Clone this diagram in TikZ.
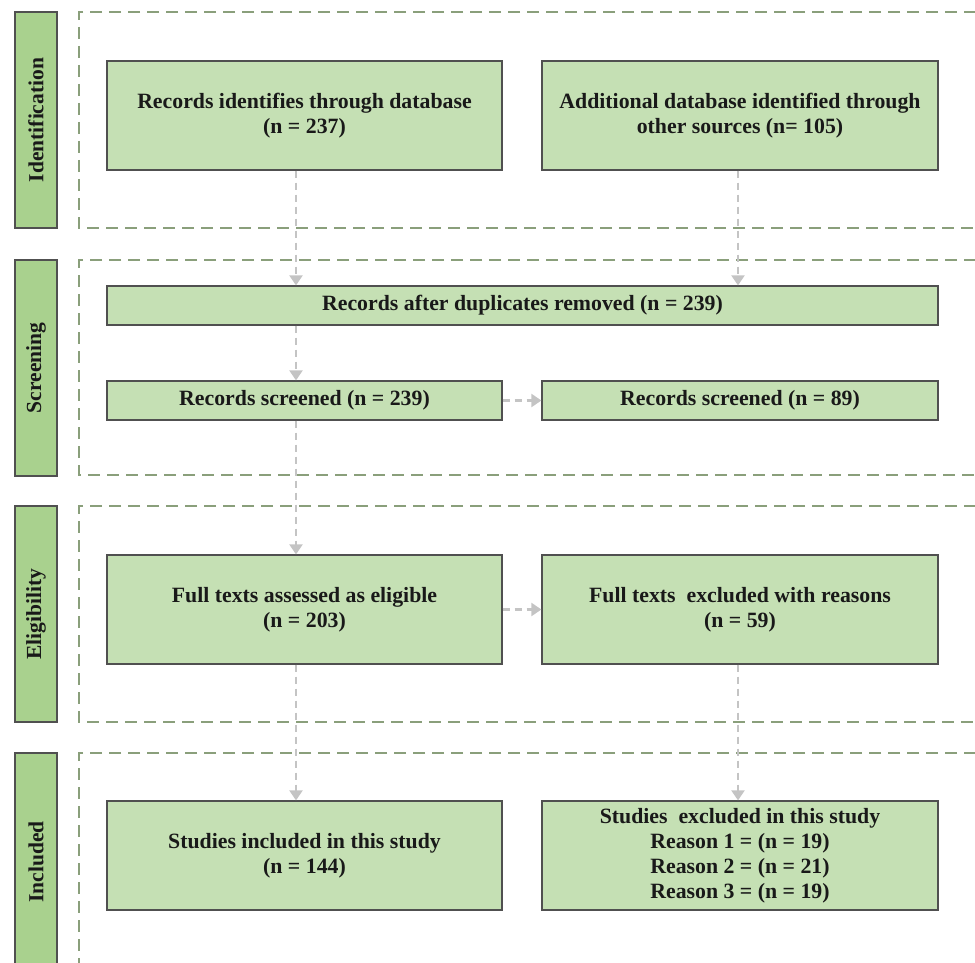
\documentclass[tikz,border=0pt]{standalone}
\usepackage{fontspec}
\setmainfont{Liberation Serif}
\usetikzlibrary{arrows.meta}
\definecolor{barfill}{HTML}{A9D18E}
\definecolor{boxfill}{HTML}{C5E0B4}
\definecolor{boxline}{HTML}{505050}
\definecolor{frameline}{HTML}{8A9F7B}
\definecolor{arrline}{HTML}{C4C4C4}
\tikzset{
  box/.style={draw=boxline, fill=boxfill, line width=1.2pt, align=center, inner sep=0pt,
    font=\fontsize{21.8}{25}\selectfont\bfseries, text=black!90},
  sidebar/.style={draw=boxline, fill=barfill, line width=1.2pt},
  sidelabel/.style={rotate=90, font=\fontsize{21.5}{22}\selectfont\bfseries, text=black!90},
  frame/.style={draw=frameline, line width=1.2pt, dash pattern=on 12pt off 7pt},
  arr/.style={draw=arrline, line width=2.2pt, dash pattern=on 7pt off 5pt,
    -{Triangle[width=13pt,length=10pt]}}
}
\begin{document}
\begin{tikzpicture}[x=1pt,y=-1pt]
\useasboundingbox (0,0) rectangle (975,963);
% side bars
\path[sidebar] (15,12) rectangle (57,228);
\path[sidebar] (15,260) rectangle (57,476);
\path[sidebar] (15,506) rectangle (57,722);
\fill[barfill] (15,753) rectangle (57,963);
\draw[boxline, line width=1.2pt] (15,963) -- (15,753) -- (57,753) -- (57,963);
\node[sidelabel] (L1) at (36,120) {Identification};
\node[sidelabel] (L2) at (36,368) {Screening};
\node[sidelabel] (L3) at (36,614) {Eligibility};
\node[sidelabel] (L4) at (36,862) {Included};
% dashed frames
\draw[frame] (976,12) -- (79,12) -- (79,228) -- (976,228);
\draw[frame] (976,260) -- (79,260) -- (79,475) -- (976,475);
\draw[frame] (976,506) -- (79,506) -- (79,722) -- (976,722);
\draw[frame] (976,753) -- (79,753) -- (79,964);
% boxes
\node[box, minimum width=395pt, minimum height=109pt] (A) at (304.5,115.5)
  {Records identifies through database\\(n = 237)};
\node[box, minimum width=396pt, minimum height=109pt] (B) at (740,115.5)
  {Additional database identified through\\other sources (n= 105)};
\node[box, minimum width=831pt, minimum height=39pt] (C) at (522.5,305.5)
  {Records after duplicates removed (n = 239)};
\node[box, minimum width=395pt, minimum height=39pt] (D) at (304.5,400.5)
  {Records screened (n = 239)};
\node[box, minimum width=396pt, minimum height=39pt] (E) at (740,400.5)
  {Records screened (n = 89)};
\node[box, minimum width=395pt, minimum height=109pt] (F) at (304.5,609.5)
  {Full texts assessed as eligible\\(n = 203)};
\node[box, minimum width=396pt, minimum height=109pt] (G) at (740,609.5)
  {Full texts\ \ excluded with reasons\\(n = 59)};
\node[box, minimum width=395pt, minimum height=109pt] (H) at (304.5,855.5)
  {Studies included in this study\\(n = 144)};
\node[box, minimum width=396pt, minimum height=109pt] (I) at (740,855.5)
  {Studies\ \ excluded in this study\\Reason 1 = (n = 19)\\Reason 2 = (n = 21)\\Reason 3 = (n = 19)};
% arrow columns
\coordinate (cl) at (296,0);
\coordinate (cr) at (738,0);
\draw[arr] (A.south -| cl) -- (C.north -| cl);
\draw[arr] (B.south -| cr) -- (C.north -| cr);
\draw[arr] (C.south -| cl) -- (D.north -| cl);
\draw[arr] (D.east) -- (E.west);
\draw[arr] (D.south -| cl) -- (F.north -| cl);
\draw[arr] (F.east) -- (G.west);
\draw[arr] (F.south -| cl) -- (H.north -| cl);
\draw[arr] (G.south -| cr) -- (I.north -| cr);
\end{tikzpicture}
\end{document}
